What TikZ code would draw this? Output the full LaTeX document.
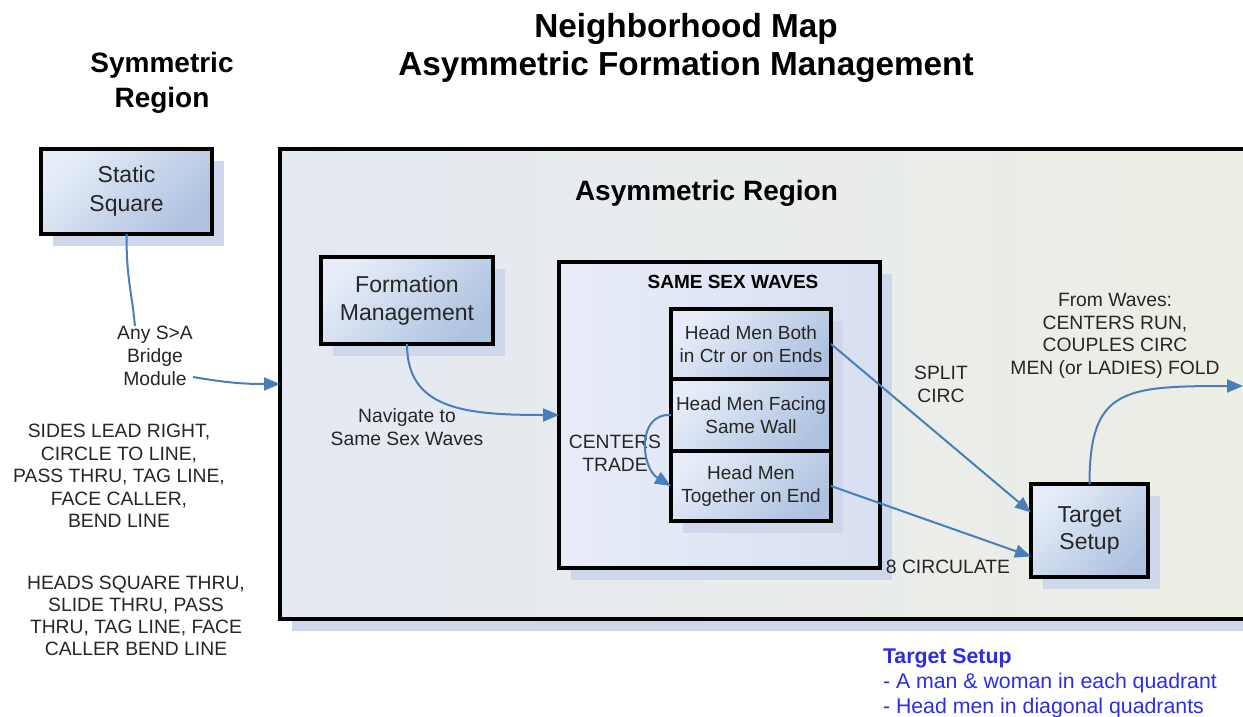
\documentclass[tikz,border=0pt]{standalone}
\usepackage{fontspec}
\setmainfont{Liberation Sans}
\usetikzlibrary{arrows.meta,shadows}
\definecolor{arrowblue}{RGB}{74,126,187}
\definecolor{boxlight}{RGB}{230,237,248}
\definecolor{boxdark}{RGB}{174,194,224}
\definecolor{shadowc}{RGB}{206,216,234}
\definecolor{regionleft}{RGB}{228,233,242}
\definecolor{regionright}{RGB}{237,239,227}
\definecolor{sswlight}{RGB}{232,237,248}
\definecolor{sswdark}{RGB}{216,223,240}
\definecolor{legendblue}{RGB}{45,45,232}
\definecolor{txt}{RGB}{38,38,38}
\begin{document}
\begin{tikzpicture}[x=1pt,y=-1pt,
  every node/.style={inner sep=0pt, outer sep=0pt, text=txt},
  shadowed/.style={drop shadow={shadow xshift=12pt, shadow yshift=-12pt, fill=shadowc, opacity=1}},
  box/.style={draw=black, line width=4.2pt, left color=boxlight, right color=boxdark, shading angle=45, align=center, shadowed},
  bigbox/.style={box, font=\fontsize{23}{28}\selectfont},
  wavebox/.style={box, font=\fontsize{19}{23}\selectfont, minimum width=160pt},
  lab/.style={align=center, font=\fontsize{19.3}{23}\selectfont},
  conn/.style={draw=arrowblue, line width=2pt},
  arr/.style={conn, -{Triangle[length=16pt,width=13pt]}},
  heading/.style={text=black, font=\bfseries\fontsize{28}{35}\selectfont}
]
\useasboundingbox (0,0) rectangle (1243,717);
\fill[white] (0,0) rectangle (1243,717);

% regions
\node[draw=black, line width=4.2pt, left color=regionleft, right color=regionright, shadowed,
      minimum width=1020pt, minimum height=470pt] (region) at (790,384) {};
\node[draw=black, line width=4.2pt, left color=sswlight, right color=sswdark, shadowed,
      minimum width=321pt, minimum height=306pt] (ssw) at (719.5,415) {};

% titles
\node[align=center, text=black, font=\bfseries\fontsize{33.3}{38}\selectfont] (title) at (686,47.5)
  {Neighborhood Map\\Asymmetric Formation Management};
\node[heading, align=center] (symr) at (162,82.5) {Symmetric\\Region};
\node[heading, anchor=base] (asymr) at (706.5,200) {Asymmetric Region};
\node[anchor=base, text=black, font=\bfseries\fontsize{19}{22}\selectfont] (sswt) at (733,288.5) {SAME SEX WAVES};

% boxes
\node[bigbox, font=\fontsize{23}{29}\selectfont, minimum width=171pt, minimum height=85pt] (ss) at (126.5,191.5) {Static\\Square};
\node[bigbox, minimum width=172pt, minimum height=87pt] (fm) at (407,300.5) {Formation\\Management};
\node[bigbox, font=\fontsize{23}{27}\selectfont, minimum width=117pt, minimum height=93pt] (tgt) at (1089.5,530.5) {Target\\Setup};
\node[wavebox, minimum height=70pt] (w1) at (751,344) {Head Men Both\\in Ctr or on Ends};
\node[wavebox, minimum height=72pt] (w2) at (751,415) {Head Men Facing\\Same Wall};
\node[wavebox, minimum height=70pt] (w3) at (751,486) {Head Men\\Together on End};

% labels
\node[lab] (lbl) at (155,356) {Any S>A\\Bridge\\Module};
\node[lab] (nav) at (407,427) {Navigate to\\Same Sex Waves};
\node[lab] (ct) at (615,453) {CENTERS\\TRADE};
\node[lab] (sc) at (941,384) {SPLIT\\CIRC};
\node[lab, anchor=base] (c8) at (948,573) {8 CIRCULATE};
\node[lab, font=\fontsize{19.3}{22.5}\selectfont] (fw) at (1115,336)
  {From Waves:\\CENTERS RUN,\\COUPLES CIRC\\MEN (or LADIES) FOLD};
\node[lab, font=\fontsize{19.3}{22.5}\selectfont] (sides) at (119,476)
  {SIDES LEAD RIGHT,\\CIRCLE TO LINE,\\PASS THRU, TAG LINE,\\FACE CALLER,\\BEND LINE};
\node[lab, font=\fontsize{19.3}{22}\selectfont] (heads) at (136,615.5)
  {HEADS SQUARE THRU,\\SLIDE THRU, PASS\\THRU, TAG LINE, FACE\\CALLER BEND LINE};
\node[anchor=west, align=left, text=legendblue, font=\fontsize{21.3}{25}\selectfont] (legend) at (883,683)
  {\textbf{Target Setup}\\- A man \& woman in each quadrant\\- Head men in diagonal quadrants};

% connectors
\coordinate (m1) at (193,377);
\coordinate (outc) at (1243,386);
\draw[conn] (ss.south) .. controls +(0,45) and +(-4,-40) .. ([xshift=-20pt]lbl.north);
\draw[arr] (m1) .. controls +(35,6) and +(-35,0) .. (region.west);
\draw[arr] (fm.south) .. controls +(0,65) and +(-95,0) .. (ssw.west);
\draw[arr] (w2.west) .. controls +(-35,-2) and +(-30,-18) .. (w3.west);
\draw[arr] (w1.east) -- ([yshift=18pt]tgt.west);
\draw[arr] (w3.east) -- ([yshift=-26pt]tgt.west);
\draw[arr] (tgt.north) .. controls +(0,-95) and +(-120,0) .. (outc);
\end{tikzpicture}
\end{document}
